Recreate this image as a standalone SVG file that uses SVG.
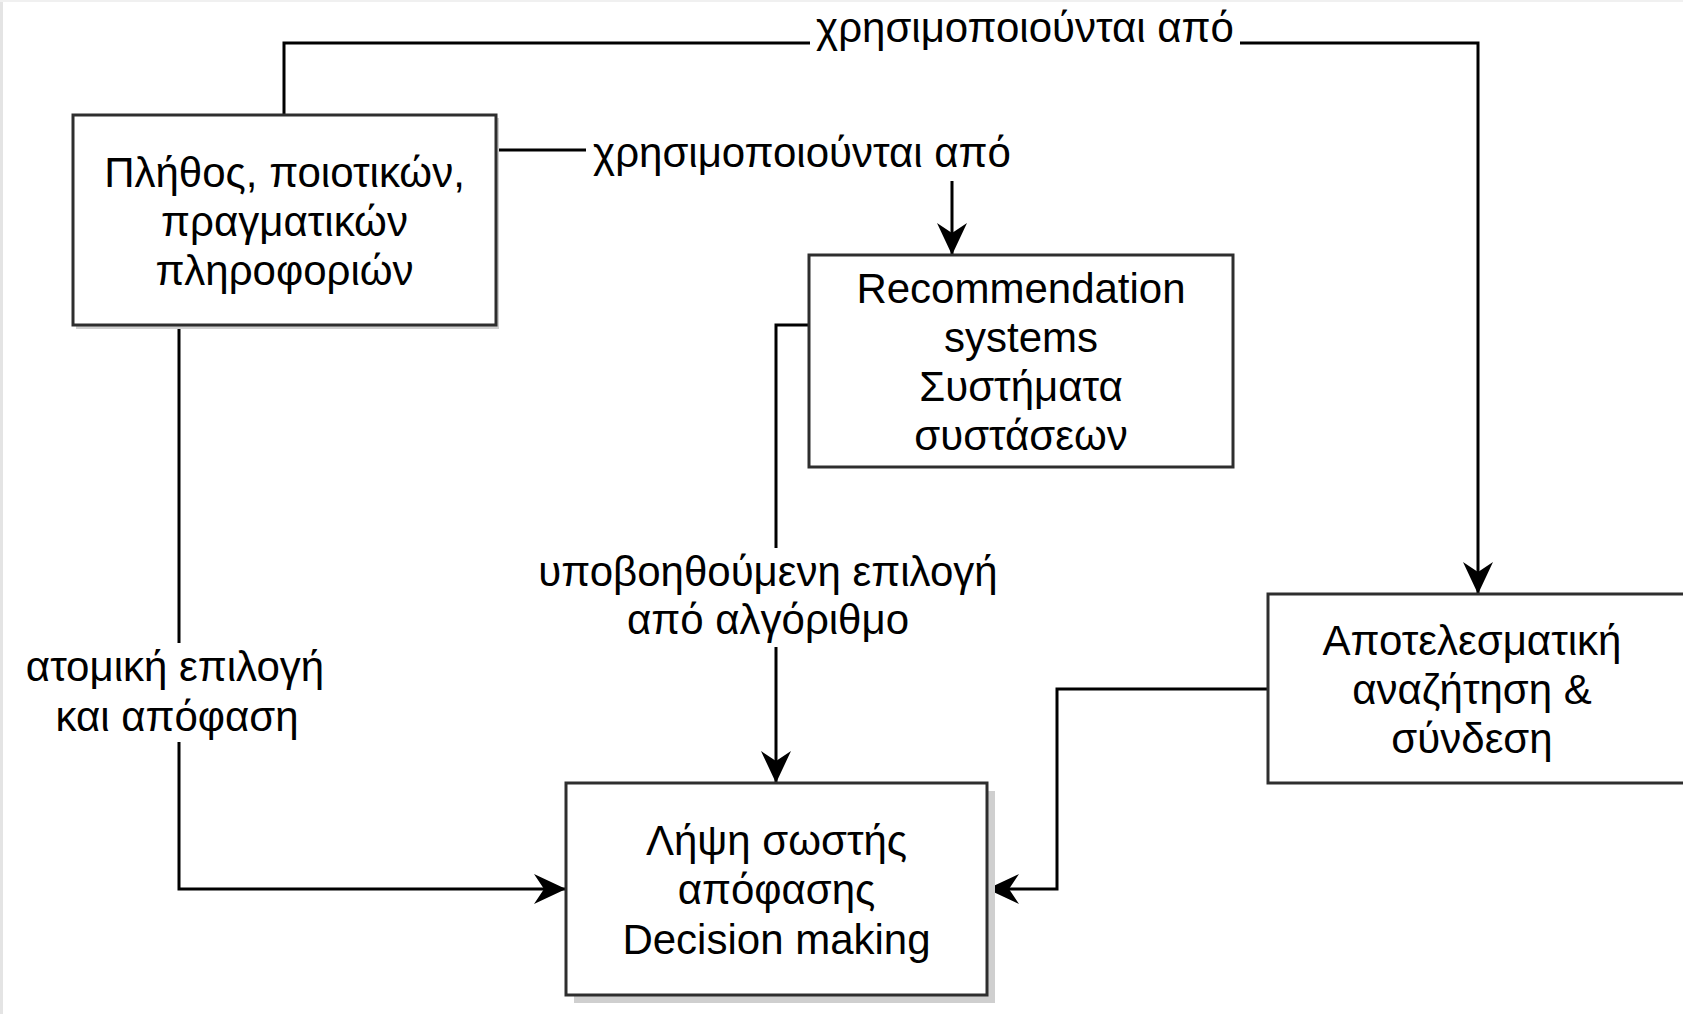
<svg xmlns="http://www.w3.org/2000/svg" width="1683" height="1014" viewBox="0 0 1683 1014">
<defs>
<style>
.box{fill:#fff;stroke:#2e2e2e;stroke-width:3}
.shadow{fill:#cfcfcf}
.t{font-family:"Liberation Sans",Arial,sans-serif;font-size:42px;fill:#000;text-anchor:middle}
.edge{fill:none;stroke:#000;stroke-width:3}
.lblbg{fill:#fff}
</style>
<marker id="arr" markerUnits="userSpaceOnUse" viewBox="0 0 32 30" refX="32" refY="15" markerWidth="32" markerHeight="30" orient="auto">
<path d="M0,0 L32,15 L0,30 L10,15 Z" fill="#000"/>
</marker>
</defs>
<rect x="0" y="0" width="1683" height="1014" fill="#fff"/>
<rect x="0" y="0" width="3" height="1014" fill="#e4e4e4"/>
<rect x="0" y="0" width="1683" height="2" fill="#f0f0f0"/>

<g id="connectors">
<path class="edge" d="M284,115 L284,43 L1478,43 L1478,594" marker-end="url(#arr)"/>
<path class="edge" d="M496,150 L952,150 L952,255" marker-end="url(#arr)"/>
<path class="edge" d="M809,325 L776,325 L776,783" marker-end="url(#arr)"/>
<path class="edge" d="M179,325 L179,889 L566,889" marker-end="url(#arr)"/>
<path class="edge" d="M1268,689 L1057,689 L1057,889 L987,889" marker-end="url(#arr)"/>
<g id="label-top">
<rect class="lblbg" x="810" y="6" width="430" height="46"/>
<text class="t" x="1025" y="42">χρησιμοποιούνται από</text>
</g>
<g id="label-mid">
<rect class="lblbg" x="586" y="126" width="432" height="55"/>
<text class="t" x="802" y="167">χρησιμοποιούνται από</text>
</g>
<g id="label-algo">
<rect class="lblbg" x="530" y="548" width="473" height="99"/>
<text class="t" x="768" y="586">υποβοηθούμενη επιλογή</text>
<text class="t" x="768" y="634">από αλγόριθμο</text>
</g>
<g id="label-atomic">
<rect class="lblbg" x="18" y="643" width="312" height="99"/>
<text class="t" x="175" y="681">ατομική επιλογή</text>
<text class="t" x="177" y="731">και απόφαση</text>
</g>
</g>

<g id="node-info">
<rect class="shadow" x="76" y="118" width="423" height="211"/>
<rect class="box" x="73" y="115" width="423" height="210"/>
<text class="t" x="284.5" y="187">Πλήθος, ποιοτικών,</text>
<text class="t" x="284.5" y="236">πραγματικών</text>
<text class="t" x="284.5" y="285">πληροφοριών</text>
</g>

<g id="node-recsys">
<rect class="box" x="809" y="255" width="424" height="212"/>
<text class="t" x="1021" y="303">Recommendation</text>
<text class="t" x="1021" y="352">systems</text>
<text class="t" x="1021" y="401">Συστήματα</text>
<text class="t" x="1021" y="450">συστάσεων</text>
</g>

<g id="node-search">
<rect class="box" x="1268" y="594" width="424" height="189"/>
<text class="t" x="1472" y="655">Αποτελεσματική</text>
<text class="t" x="1472" y="704">αναζήτηση &amp;</text>
<text class="t" x="1472" y="753">σύνδεση</text>
</g>

<g id="node-decision">
<rect class="shadow" x="574" y="791" width="421" height="212"/>
<rect class="box" x="566" y="783" width="421" height="212"/>
<text class="t" x="776.5" y="855">Λήψη σωστής</text>
<text class="t" x="776.5" y="904">απόφασης</text>
<text class="t" x="776.5" y="954">Decision making</text>
</g>
</svg>
